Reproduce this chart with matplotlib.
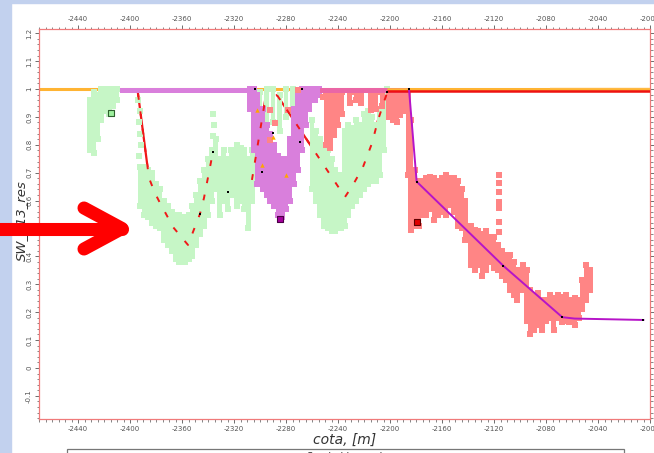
import numpy as np
import matplotlib
matplotlib.use("Agg")
import matplotlib.pyplot as plt
from matplotlib.lines import Line2D
from matplotlib.patches import Rectangle
from matplotlib.ticker import MultipleLocator, FuncFormatter

# ---------------- data ----------------
# Well 1 (light green): columns of SW samples (depth, low SW, high SW)
green_x = [-2431, -2428, -2425, -2422, -2419, -2416, -2413, -2410,
           -2392, -2389, -2386, -2383, -2380, -2377, -2374, -2371, -2368, -2365,
           -2362, -2358, -2355, -2352, -2349, -2346, -2343, -2340, -2337, -2334,
           -2331, -2328, -2325, -2322, -2318, -2315, -2312, -2309, -2306,
           -2300, -2295, -2290, -2285, -2280, -2275,
           -2260, -2257, -2254, -2251, -2248, -2245, -2242, -2238, -2235, -2232,
           -2229, -2226, -2223, -2220, -2217, -2214, -2211, -2208, -2205, -2202]
green_lo = [0.78, 0.77, 0.82, 0.89, 0.92, 0.91, 0.94, 0.96,
            0.58, 0.55, 0.54, 0.52, 0.51, 0.50, 0.46, 0.44, 0.42, 0.39,
            0.38, 0.38, 0.39, 0.40, 0.44, 0.48, 0.51, 0.55, 0.60, 0.64,
            0.55, 0.60, 0.57, 0.62, 0.58, 0.60, 0.57, 0.50, 0.60,
            0.85, 0.80, 0.88, 0.85, 0.90, 0.92,
            0.64, 0.60, 0.55, 0.51, 0.50, 0.49, 0.49, 0.50, 0.51, 0.55,
            0.58, 0.60, 0.62, 0.64, 0.66, 0.67, 0.67, 0.69, 0.78, 0.96]
green_hi = [0.96, 0.99, 0.98, 1.00, 1.00, 1.00, 1.00, 1.00,
            0.72, 0.72, 0.71, 0.70, 0.66, 0.64, 0.60, 0.58, 0.56, 0.55,
            0.55, 0.54, 0.55, 0.58, 0.62, 0.67, 0.71, 0.75, 0.78, 0.82,
            0.75, 0.78, 0.75, 0.78, 0.80, 0.79, 0.78, 0.75, 0.78,
            0.99, 1.00, 1.00, 0.98, 1.00, 1.00,
            0.89, 0.85, 0.82, 0.80, 0.78, 0.75, 0.71, 0.69, 0.85, 0.87,
            0.86, 0.89, 0.87, 0.91, 0.92, 0.90, 0.87, 0.92, 0.98, 1.00]
green_px = [-2393.8, -2392.3, -2393.0, -2392.0, -2391.5, -2393.0,
            -2336.0, -2335.5, -2336.5, -2204.0]
green_py = [0.96, 0.92, 0.88, 0.84, 0.80, 0.76,
            0.91, 0.87, 0.83, 0.99]

# Well 2 (violet)
violet_band = (-2408.0, -2306.0, 0.986, 1.004)
violet_x = [-2308, -2305, -2302, -2298, -2295, -2292, -2289, -2286, -2283,
            -2280, -2277, -2274, -2271, -2268, -2265, -2262, -2258, -2255]
violet_lo = [0.93, 0.78, 0.66, 0.64, 0.62, 0.60, 0.58, 0.55, 0.54,
             0.57, 0.60, 0.66, 0.71, 0.78, 0.87, 0.93, 0.96, 0.98]
violet_hi = [1.00, 1.00, 0.98, 0.93, 0.87, 0.84, 0.80, 0.76, 0.75,
             0.75, 0.82, 0.93, 0.98, 1.00, 1.00, 1.00, 1.00, 1.00]

# Well 3 (salmon)
salmon_band = (-2254.0, -2185.0, 0.985, 1.003)
salmon_x = [-2249, -2246, -2243, -2240, -2237, -2231, -2226, -2222, -2215,
            -2211, -2206, -2201, -2198, -2195, -2192, -2189,
            -2186, -2184, -2181, -2178, -2175, -2172, -2169, -2166, -2163,
            -2160, -2157, -2154, -2151, -2148, -2145, -2142, -2138, -2135,
            -2132, -2129, -2126, -2123, -2120, -2117, -2114, -2111, -2108,
            -2105, -2102, -2098, -2095, -2092, -2089, -2086, -2083, -2080,
            -2077, -2074, -2071, -2068, -2065, -2062, -2058, -2055, -2052,
            -2049, -2046]
salmon_lo = [0.80, 0.79, 0.835, 0.87, 0.91, 0.95, 0.96, 0.95, 0.925,
             0.93, 0.94, 0.90, 0.89, 0.88, 0.905, 0.92,
             0.69, 0.495, 0.51, 0.51, 0.55, 0.55, 0.57, 0.53, 0.55,
             0.56, 0.55, 0.585, 0.56, 0.51, 0.50, 0.46, 0.37, 0.35,
             0.37, 0.33, 0.35, 0.38, 0.36, 0.35, 0.33, 0.315, 0.28,
             0.26, 0.245, 0.28, 0.17, 0.12, 0.135, 0.155, 0.135, 0.17,
             0.18, 0.135, 0.18, 0.165, 0.17, 0.165, 0.155, 0.18, 0.21,
             0.245, 0.28]
salmon_hi = [0.99, 0.99, 0.99, 0.99, 0.99, 0.99, 0.99, 0.99, 0.99,
             0.99, 0.99, 0.99, 0.99, 0.99, 0.99, 0.99,
             0.99, 0.89, 0.71, 0.67, 0.67, 0.68, 0.685, 0.68, 0.67,
             0.68, 0.69, 0.68, 0.68, 0.67, 0.64, 0.60, 0.51, 0.495,
             0.49, 0.48, 0.49, 0.47, 0.47, 0.44, 0.42, 0.405, 0.405,
             0.38, 0.35, 0.37, 0.35, 0.28, 0.26, 0.27, 0.245, 0.245,
             0.26, 0.25, 0.26, 0.255, 0.26, 0.245, 0.25, 0.245, 0.315,
             0.37, 0.35]
salmon_px = [-2116.5, -2116.5, -2116.5, -2116.5, -2116.5, -2116.5, -2116.5,
             -2292.3, -2292.3, -2288.5, -2270.8, -2251.5, -2278.5]
salmon_py = [0.692, 0.663, 0.631, 0.595, 0.573, 0.523, 0.487,
             0.817, 0.925, 0.878, 0.996, 0.970, 0.925]

# highlighted samples
hl_green = (-2414.6, 0.914)
hl_violet = (-2284.6, 0.534)
hl_salmon = (-2179.2, 0.523)

# trend lines
red1_x = [-2393.8, -2385.4, -2380.8, -2376.9, -2372.3, -2366.9, -2355.4,
          -2351.5, -2346.2, -2343.1, -2336.2]
red1_y = [0.982, 0.681, 0.627, 0.591, 0.552, 0.505, 0.441,
          0.488, 0.552, 0.609, 0.774]
red2_x = [-2306.2, -2295.4]
red2_y = [0.674, 0.978]
red3_x = [-2286.9, -2253.8, -2234.6, -2228.5, -2220.8, -2213.8, -2209.2, -2202.3]
red3_y = [0.978, 0.747, 0.613, 0.656, 0.720, 0.806, 0.889, 0.986]
mag_x = [-2185.4, -2179.5, -2112.8, -2067.5, -2058.0, -2005.1]
mag_y = [1.000, 0.668, 0.366, 0.182, 0.177, 0.172]
orange_x = [-2470, -2000]
orange_y = [1.0, 1.0]
orange2_x = [-2077, -2000]
orange2_y = [0.996, 0.996]
redtop_x = [-2202.3, -2000]
redtop_y = [0.992, 0.992]

node_x = [-2346.2, -2336.2, -2324.6, -2298.5, -2290.0, -2269.2, -2267.7,
          -2303.8, -2202.3, -2185.4, -2179.5, -2112.8, -2067.5, -2005.1]
node_y = [0.552, 0.774, 0.631, 0.703, 0.842, 0.810, 1.000,
          1.000, 0.990, 1.000, 0.668, 0.366, 0.182, 0.172]
tri_x = [-2302.3, -2290.0, -2298.5, -2280.0]
tri_y = [0.925, 0.828, 0.728, 0.690]

x_ticks = [-2440, -2400, -2360, -2320, -2280, -2240, -2200, -2160,
           -2120, -2080, -2040, -2000]
y_ticks = [-0.1, 0, 0.1, 0.2, 0.3, 0.4, 0.5, 0.6, 0.7, 0.8, 0.9, 1.0, 1.1, 1.2]

# ---------------- figure ----------------
W, H = 654, 453
fig = plt.figure(figsize=(W / 100, H / 100), dpi=100)
fig.patch.set_facecolor("white")

def fx(px):
    return px / W

def fy(py):
    return 1 - py / H

# window frame
fig.add_artist(Rectangle((0, 0), fx(10.5), 1, transform=fig.transFigure,
                         color="#c2d1ee", zorder=0))
fig.add_artist(Rectangle((0, fy(2.7)), 1, fy(0) - fy(2.7), transform=fig.transFigure,
                         color="#c2d1ee", zorder=0))

ax = fig.add_axes([fx(39), fy(419), fx(650) - fx(39), fy(29) - fy(419)])
ax.set_xlim(-2470, -2000)
ax.set_ylim(-0.183, 1.215)

GREEN = "#c6f6c6"
VIOLET = "#d97fdc"
SALMON = "#ff8585"
SQ = 14  # square marker area (pt^2)
BW = 3.8  # column width in metres


def draw_cloud(xs, lo, hi, color, z):
    xs = np.asarray(xs, float)
    lo = np.asarray(lo, float)
    hi = np.asarray(hi, float)
    ax.bar(xs, hi - lo, bottom=lo, width=BW, color=color, linewidth=0, zorder=z)
    ax.scatter(xs, lo, marker="s", s=SQ, color=color, linewidths=0, zorder=z)
    ax.scatter(xs, hi, marker="s", s=SQ, color=color, linewidths=0, zorder=z)


# reference lines underneath
ax.plot(orange_x, orange_y, color="#ffb433", lw=2.2, zorder=1, solid_capstyle="butt")

# well trend lines: solid beneath the samples, broken where they cross them
for xs, ys in ((red1_x, red1_y), (red2_x, red2_y), (red3_x, red3_y)):
    ax.plot(xs, ys, color="#f01818", lw=1.6, zorder=1.5)
    ax.plot(xs, ys, color="#f01818", lw=1.4, ls=(0, (3, 6)), zorder=6)

draw_cloud(green_x, green_lo, green_hi, GREEN, 2)
ax.scatter(green_px, green_py, marker="s", s=SQ, color=GREEN, linewidths=0, zorder=2)

vb = violet_band
ax.bar((vb[0] + vb[1]) / 2, vb[3] - vb[2], bottom=vb[2], width=vb[1] - vb[0],
       color=VIOLET, linewidth=0, zorder=3)
draw_cloud(violet_x, violet_lo, violet_hi, VIOLET, 3)

sb = salmon_band
draw_cloud(salmon_x, salmon_lo, salmon_hi, SALMON, 4)
ax.bar((sb[0] + sb[1]) / 2, sb[3] - sb[2], bottom=sb[2], width=sb[1] - sb[0],
       color="#ea66a6", linewidth=0, zorder=4)
ax.scatter(salmon_px, salmon_py, marker="s", s=SQ, color=SALMON, linewidths=0, zorder=4)

# highlighted samples
ax.scatter(*hl_green, marker="s", s=22, color="#9ef09e", edgecolors="#2f5f2f",
           linewidths=0.8, zorder=8)
ax.scatter(*hl_violet, marker="s", s=22, color="#a4009c", edgecolors="#4a0046",
           linewidths=0.8, zorder=8)
ax.scatter(*hl_salmon, marker="s", s=22, color="#e00000", edgecolors="#600000",
           linewidths=0.8, zorder=8)

ax.plot(orange2_x, orange2_y, color="#ffcc77", lw=3.2, zorder=5, solid_capstyle="butt")
ax.plot([-2202.3, -2000], [1.0, 1.0], color="#ffb433", lw=1.8, zorder=5,
        solid_capstyle="butt")
ax.plot(redtop_x, redtop_y, color="#ee1111", lw=1.8, zorder=6, solid_capstyle="butt")
ax.plot(mag_x, mag_y, color="#b614c8", lw=1.4, zorder=7)
ax.scatter(tri_x, tri_y, marker="^", s=10, color="#ffa500", linewidths=0, zorder=7)
ax.scatter(node_x, node_y, marker="s", s=4, color="black", linewidths=0, zorder=9)

# axes styling
for sp in ax.spines.values():
    sp.set_color("#f07a7a")
    sp.set_linewidth(0.9)
ax.set_xticks(x_ticks)
ax.set_yticks(y_ticks)
ax.xaxis.set_minor_locator(MultipleLocator(5))
ax.yaxis.set_minor_locator(MultipleLocator(0.02))
ax.xaxis.set_major_formatter(FuncFormatter(lambda v, p: "%d" % v))
ax.yaxis.set_major_formatter(FuncFormatter(lambda v, p: "%g" % round(v, 2)))
ax.tick_params(which="both", direction="out", colors="#555555",
               top=True, right=True, labeltop=True, labelright=False,
               labelsize=5, pad=2)
ax.tick_params(which="major", length=3, width=0.6)
ax.tick_params(which="minor", length=1.8, width=0.5)
plt.setp(ax.get_yticklabels(), rotation=90, va="center")

# axis titles
fig.text(fx(345), fy(440), "cota, [m]", ha="center", va="center", fontsize=10,
         style="italic", color="#333333")
fig.text(fx(21), fy(221), "SW_K13_res", ha="center", va="center", fontsize=9.5,
         style="italic", rotation=90, color="#333333")

# legend box below the plot
fig.add_artist(Rectangle((fx(67), fy(470)), fx(624) - fx(67), fy(449) - fy(470),
                         transform=fig.transFigure, facecolor="white",
                         edgecolor="#777777", lw=0.9))
fig.text(fx(345), fy(452), "Symbol Legend", ha="center", va="top", fontsize=7,
         color="#333333")

# pointer arrow
arrow_kw = dict(transform=fig.transFigure, color="#ff0000", lw=9.4,
                solid_capstyle="round", solid_joinstyle="round", zorder=20)
fig.add_artist(Line2D([fx(-8), fx(122)], [fy(228.5), fy(228.5)], **arrow_kw))
fig.add_artist(Line2D([fx(84), fx(122), fx(84)], [fy(208), fy(228.5), fy(249)], **arrow_kw))

fig.savefig("out.png", dpi=100)
